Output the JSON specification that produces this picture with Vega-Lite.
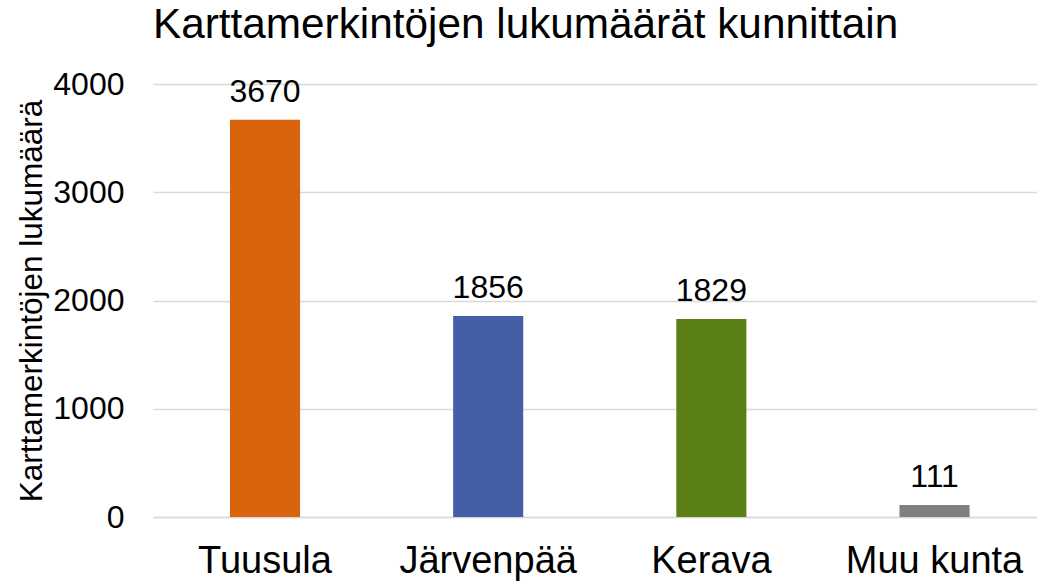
{
  "$schema": "https://vega.github.io/schema/vega-lite/v6.json",
  "width": 884,
  "height": 433,
  "autosize": "none",
  "padding": {"left": 153, "top": 84, "right": 0, "bottom": 66},
  "background": "white",
  "title": {
    "text": "Karttamerkintöjen lukumäärät kunnittain",
    "anchor": "start",
    "frame": "group",
    "font": "Liberation Sans",
    "fontSize": 42.3,
    "fontWeight": "normal",
    "color": "#000000",
    "offset": 21
  },
  "config": {
    "view": {"stroke": null},
    "font": "Liberation Sans"
  },
  "data": {
    "values": [
      {"kunta": "Tuusula", "lukumaara": 3670},
      {"kunta": "Järvenpää", "lukumaara": 1856},
      {"kunta": "Kerava", "lukumaara": 1829},
      {"kunta": "Muu kunta", "lukumaara": 111}
    ]
  },
  "encoding": {
    "x": {
      "field": "kunta",
      "type": "nominal",
      "sort": null,
      "scale": {"paddingInner": 0.686, "paddingOuter": 0.3235, "align": 0.533},
      "axis": {
        "title": null,
        "labelAngle": 0,
        "labelFont": "Liberation Sans",
        "labelFontSize": 38,
        "labelColor": "#000000",
        "labelPadding": 25,
        "ticks": false,
        "domain": true,
        "domainColor": "#D9D9D9",
        "domainWidth": 1.5
      }
    },
    "y": {
      "field": "lukumaara",
      "type": "quantitative",
      "scale": {"domain": [0, 4000], "nice": false},
      "axis": {
        "title": "Karttamerkintöjen lukumäärä",
        "titleFont": "Liberation Sans",
        "titleFontSize": 31.5,
        "titleFontWeight": "normal",
        "titleColor": "#000000",
        "titlePadding": 4,
        "values": [0, 1000, 2000, 3000, 4000],
        "format": "d",
        "labelFont": "Liberation Sans",
        "labelFontSize": 32,
        "labelColor": "#000000",
        "labelPadding": 29,
        "ticks": false,
        "domain": false,
        "grid": true,
        "gridColor": "#D9D9D9",
        "gridWidth": 1.3
      }
    }
  },
  "layer": [
    {
      "mark": {"type": "bar"},
      "encoding": {
        "color": {
          "field": "kunta",
          "type": "nominal",
          "scale": {
            "domain": ["Tuusula", "Järvenpää", "Kerava", "Muu kunta"],
            "range": ["#DA640E", "#445FA5", "#5A7F17", "#7F7F7F"]
          },
          "legend": null
        }
      }
    },
    {
      "mark": {
        "type": "text",
        "baseline": "alphabetic",
        "align": "center",
        "dy": -18,
        "font": "Liberation Sans",
        "fontSize": 32,
        "color": "#000000"
      },
      "encoding": {
        "text": {"field": "lukumaara", "type": "quantitative"}
      }
    }
  ]
}
